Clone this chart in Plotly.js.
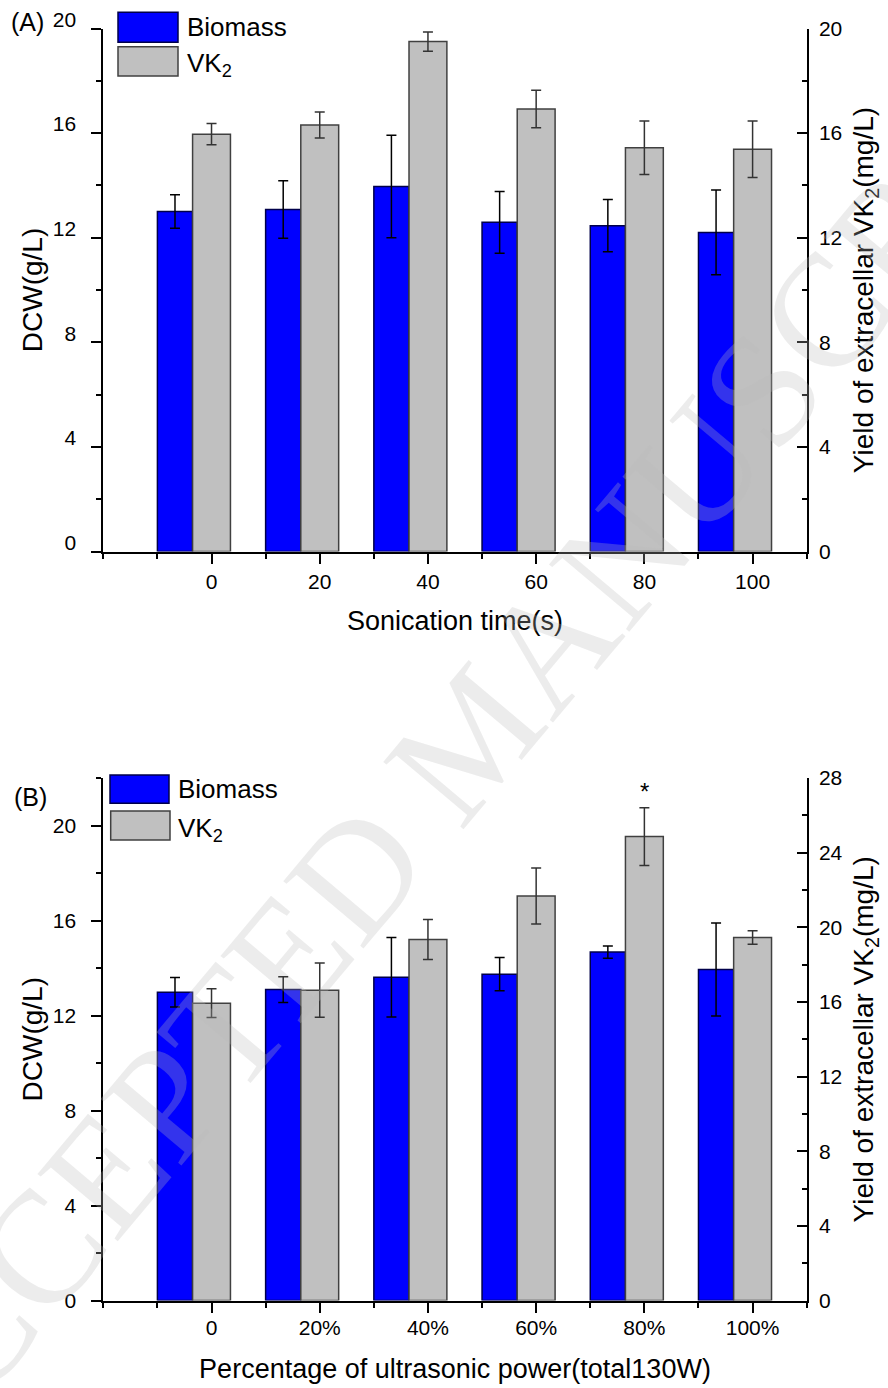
<!DOCTYPE html>
<html>
<head>
<meta charset="utf-8">
<script src="https://cdn.plot.ly/plotly-3.0.1.min.js"></script>
<style>
html,body{margin:0;padding:0;background:#ffffff;}
#chart{width:888px;height:1388px;}
</style>
</head>
<body>
<div id="chart"></div>
<script>
// ---------------- data ----------------
const seriesNames = ['Biomass', 'VK<sub>2</sub>'];

const timeCats = [0, 20, 40, 60, 80, 100];
const timeLabels = ['0', '20', '40', '60', '80', '100'];
const biomassA = [13.0, 13.08, 13.96, 12.59, 12.46, 12.2];
const biomassAErr = [0.64, 1.1, 1.96, 1.18, 1.0, 1.62];
const vk2A = [15.96, 16.31, 19.5, 16.92, 15.44, 15.38];
const vk2AErr = [0.41, 0.5, 0.37, 0.72, 1.02, 1.08];

const powerCats = [0, 20, 40, 60, 80, 100];
const powerLabels = ['0', '20%', '40%', '60%', '80%', '100%'];
const biomassB = [12.98, 13.09, 13.61, 13.74, 14.67, 13.94];
const biomassBErr = [0.62, 0.54, 1.67, 0.7, 0.26, 1.96];
const vk2B = [15.93, 16.63, 19.35, 21.68, 24.86, 19.45];
const vk2BErr = [0.77, 1.45, 1.07, 1.5, 1.55, 0.36];

const markText = '*';
const markIndex = 4;
const panelLabels = ['(A)', '(B)'];
const titles = {
  xA: 'Sonication time(s)',
  xB: 'Percentage of ultrasonic power(total130W)',
  yLeft: 'DCW(g/L)',
  yRight: 'Yield of extracellar VK<sub>2</sub>(mg/L)'
};
const watermark = 'ACCEPTED MANUSCRIPT';

// ---------------- helpers ----------------
const W = 888, H = 1388;
const px = v => v / W;
const py = v => 1 - v / H;
const FONT = 'Arial, "Liberation Sans", sans-serif';
const BLUE = '#0000ff', GRAY = '#c0c0c0';

const xDom = [px(103.3), px(806.7)];
const yDomA = [py(551.5), py(28.5)];
const yDomB = [py(1300.5), py(778)];

function bars(x, y, err, xa, ya, fill, lineColor, errColor, offset, width, name) {
  return {
    type: 'bar', x: x, y: y, xaxis: xa, yaxis: ya, name: name,
    offset: offset, width: width,
    marker: {color: fill, line: {color: lineColor, width: 1.5}},
    error_y: {type: 'data', array: err, visible: true, color: errColor, thickness: 1.5, width: 5},
    showlegend: false, hoverinfo: 'skip'
  };
}

const data = [
  bars(timeCats, biomassA, biomassAErr, 'x', 'y', BLUE, '#00004a', '#000000', -10, 6.5, 'Biomass'),
  bars(timeCats, vk2A, vk2AErr, 'x', 'y2', GRAY, '#404040', '#333333', -3.5, 7, 'VK2'),
  bars(powerCats, biomassB, biomassBErr, 'x2', 'y3', BLUE, '#00004a', '#000000', -10, 6.5, 'Biomass'),
  bars(powerCats, vk2B, vk2BErr, 'x2', 'y4', GRAY, '#404040', '#333333', -3.5, 7, 'VK2')
];

const tickFont = {family: FONT, size: 21, color: '#000'};
const xTitleFont = {family: FONT, size: 27, color: '#000'};
const yTitleFont = {family: FONT, size: 28, color: '#000'};

function xAxis(anchor, vals, labels, title, standoff, tstand) {
  return {
    domain: xDom, anchor: anchor, range: [-20, 110],
    tickmode: 'array', tickvals: vals, ticktext: labels,
    ticks: 'outside', ticklen: 10, tickwidth: 2, tickcolor: '#000',
    minor: {dtick: 10, tick0: 0, ticks: 'outside', ticklen: 5, tickwidth: 2, tickcolor: '#000'},
    showline: true, linewidth: 2, linecolor: '#000',
    showgrid: false, zeroline: false, fixedrange: true,
    tickfont: tickFont, ticklabelstandoff: standoff,
    title: {text: title, font: xTitleFont, standoff: tstand}
  };
}
function yLeft(anchor, domain, maxv, shift) {
  return {
    domain: domain, anchor: anchor, range: [0, maxv],
    tickmode: 'linear', tick0: 0, dtick: 4,
    ticks: 'outside', ticklen: 10, tickwidth: 2, tickcolor: '#000',
    minor: {dtick: 2, tick0: 0, ticks: 'outside', ticklen: 5, tickwidth: 2, tickcolor: '#000'},
    showline: true, linewidth: 2, linecolor: '#000',
    showgrid: false, zeroline: false, fixedrange: true,
    tickfont: tickFont, ticklabelstandoff: 11, ticklabelshift: shift,
    title: {text: titles.yLeft, font: yTitleFont, standoff: 2}
  };
}
function yRight(anchor, over, maxv) {
  return {
    overlaying: over, side: 'right', anchor: anchor, range: [0, maxv],
    tickmode: 'linear', tick0: 0, dtick: 4,
    ticks: 'inside', ticklen: 10, tickwidth: 2, tickcolor: '#000',
    minor: {dtick: 2, tick0: 0, ticks: 'inside', ticklen: 5, tickwidth: 2, tickcolor: '#000'},
    showline: true, linewidth: 2, linecolor: '#000',
    showgrid: false, zeroline: false, fixedrange: true,
    tickfont: tickFont, ticklabelstandoff: 6,
    title: {text: titles.yRight, font: yTitleFont, standoff: 12}
  };
}

const shapes = [
  // legend swatches (A)
  {type: 'rect', xref: 'paper', yref: 'paper', x0: px(118), x1: px(178), y0: py(42.3), y1: py(12.3),
   fillcolor: BLUE, line: {color: '#00004a', width: 1.5}},
  {type: 'rect', xref: 'paper', yref: 'paper', x0: px(118), x1: px(178), y0: py(76), y1: py(46.7),
   fillcolor: GRAY, line: {color: '#404040', width: 1.5}},
  // legend swatches (B)
  {type: 'rect', xref: 'paper', yref: 'paper', x0: px(110), x1: px(169), y0: py(803.3), y1: py(775),
   fillcolor: BLUE, line: {color: '#00004a', width: 1.5}},
  {type: 'rect', xref: 'paper', yref: 'paper', x0: px(110.7), x1: px(170), y0: py(840), y1: py(811),
   fillcolor: GRAY, line: {color: '#404040', width: 1.5}}
];

const legFont = {family: FONT, size: 26, color: '#000'};
const annotations = [
  {text: watermark, xref: 'paper', yref: 'paper', x: px(472), y: py(735), xanchor: 'center', yanchor: 'middle',
   textangle: -50, showarrow: false,
   font: {family: '"Liberation Serif", "Times New Roman", serif', size: 160, color: 'rgba(185,185,185,0.28)'}},
  {text: panelLabels[0], xref: 'paper', yref: 'paper', x: px(27.5), y: py(22), xanchor: 'center', yanchor: 'middle',
   showarrow: false, font: {family: FONT, size: 25, color: '#000'}},
  {text: panelLabels[1], xref: 'paper', yref: 'paper', x: px(30.5), y: py(797), xanchor: 'center', yanchor: 'middle',
   showarrow: false, font: {family: FONT, size: 25, color: '#000'}},
  {text: seriesNames[0], xref: 'paper', yref: 'paper', x: px(185), y: py(27), xanchor: 'left', yanchor: 'middle',
   showarrow: false, font: legFont},
  {text: seriesNames[1], xref: 'paper', yref: 'paper', x: px(185), y: py(65), xanchor: 'left', yanchor: 'middle',
   showarrow: false, font: legFont},
  {text: seriesNames[0], xref: 'paper', yref: 'paper', x: px(176), y: py(789), xanchor: 'left', yanchor: 'middle',
   showarrow: false, font: legFont},
  {text: seriesNames[1], xref: 'paper', yref: 'paper', x: px(176), y: py(829), xanchor: 'left', yanchor: 'middle',
   showarrow: false, font: legFont},
  {text: markText, xref: 'x2', yref: 'y4', x: powerCats[markIndex], y: vk2B[markIndex] + vk2BErr[markIndex],
   xanchor: 'center', yanchor: 'bottom', yshift: 1, showarrow: false, font: {family: FONT, size: 24, color: '#000'}}
];

const layout = {
  width: W, height: H,
  margin: {l: 0, r: 0, t: 0, b: 0, pad: 0},
  paper_bgcolor: '#ffffff', plot_bgcolor: 'rgba(0,0,0,0)',
  barmode: 'overlay', showlegend: false,
  font: {family: FONT, color: '#000'},
  xaxis: xAxis('y', timeCats, timeLabels, titles.xA, 0, 19),
  yaxis: yLeft('x', yDomA, 20, -9),
  yaxis2: yRight('x', 'y', 20),
  xaxis2: xAxis('y3', powerCats, powerLabels, titles.xB, -3, 21),
  yaxis3: yLeft('x2', yDomB, 22, 0),
  yaxis4: yRight('x2', 'y3', 28),
  shapes: shapes,
  annotations: annotations
};

Plotly.newPlot('chart', data, layout, {displayModeBar: false, staticPlot: true});
</script>
</body>
</html>
